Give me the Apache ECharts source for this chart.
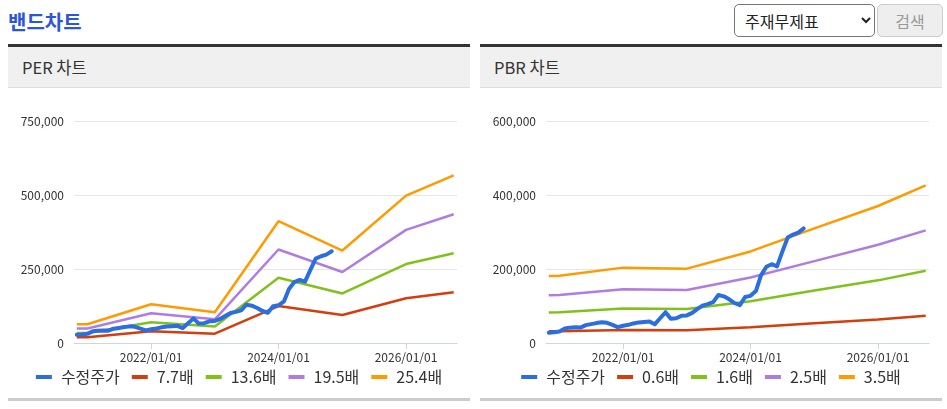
<!DOCTYPE html>
<html>
<head>
<meta charset="utf-8">
<script src="https://cdn.jsdelivr.net/npm/echarts@6/dist/echarts.min.js"></script>
<style>
  html, body { margin: 0; padding: 0; background: #fff; }
  body { width: 947px; height: 409px; position: relative; overflow: hidden;
         font-family: "Noto Sans CJK KR", "Noto Sans", sans-serif; }
  .title { position: absolute; left: 8px; top: 7px; font-size: 20px; font-weight: bold; color: #2d55d8; }
  .finder { position: absolute; left: 734px; top: 4px; }
  .finder select { position: absolute; left: 0; top: 0; width: 141px; height: 33px; font-size: 16px;
                   font-family: "Noto Sans CJK KR", sans-serif; border: 1px solid #767676; border-radius: 5px;
                   background: #fff; color: #222; padding-left: 6px; }
  .finder button { position: absolute; left: 143px; top: 0; width: 66px; height: 33px; font-size: 16px;
                   font-family: "Noto Sans CJK KR", sans-serif; border: 1px solid #ccc; border-radius: 5px;
                   background: #eee; color: #999; }
  .panel { position: absolute; top: 44px; width: 462px; height: 358px; border-top: 3px solid #333; }
  .panel .head { height: 40px; background: #f0f0f0; border-bottom: 1px solid #ddd;
                 font-size: 16.5px; color: #333; line-height: 40px; padding-left: 14px; }
  .panel .chart-box { width: 462px; height: 310px; }
  .panel .foot { height: 3px; background: #ccc; }
</style>
</head>
<body>
<div class="title">밴드차트</div>
<div class="finder">
  <select><option>주재무제표</option></select>
  <button>검색</button>
</div>

<div class="panel" style="left:8px">
  <div class="head">PER 차트</div>
  <div class="chart-box" id="perChart"></div>
  <div class="foot"></div>
</div>
<div class="panel" style="left:480px">
  <div class="head">PBR 차트</div>
  <div class="chart-box" id="pbrChart"></div>
  <div class="foot"></div>
</div>

<script>
// 수정주가 (monthly)
const priceDates = [
  '2020-11-01', '2020-12-01', '2021-01-01', '2021-02-01', '2021-03-01', '2021-04-01', '2021-05-01',
  '2021-06-01', '2021-07-01', '2021-08-01', '2021-09-01', '2021-10-01', '2021-11-01', '2021-12-01',
  '2022-01-01', '2022-02-01', '2022-03-01', '2022-04-01', '2022-05-01', '2022-06-01', '2022-07-01',
  '2022-08-01', '2022-09-01', '2022-10-01', '2022-11-01', '2022-12-01', '2023-01-01', '2023-02-01',
  '2023-03-01', '2023-04-01', '2023-05-01', '2023-06-01', '2023-07-01', '2023-08-01', '2023-09-01',
  '2023-10-01', '2023-11-01', '2023-12-01', '2024-01-01', '2024-02-01', '2024-03-01', '2024-04-01',
  '2024-05-01', '2024-06-01', '2024-07-01', '2024-08-01', '2024-09-01', '2024-10-01', '2024-11-01'
]
const priceValues = [
  28000, 29000, 31000, 39500, 41500, 42500, 41700,
  48300, 51000, 53800, 56200, 54600, 48800, 42800,
  46700, 49100, 52900, 55700, 56800, 57900, 50500,
  66900, 83200, 65500, 66900, 73400, 74500, 81300,
  91400, 101200, 105100, 110500, 129600, 126100, 118200,
  108100, 102300, 124400, 127400, 140300, 182800, 206000,
  212900, 207100, 246200, 284900, 293100, 298500, 309700
]

// band points
const bandDates = ['2020-11-01', '2021-01-01', '2022-01-01', '2023-01-01', '2024-01-01', '2025-01-01', '2026-01-01', '2026-10-01']

const perNames = ['7.7배', '13.6배', '19.5배', '25.4배']
const per77 = [19300, 19300, 39700, 31600, 124700, 94700, 150900, 171700]
const per136 = [34000, 34000, 70000, 55800, 220300, 167300, 266600, 303300]
const per195 = [48800, 48800, 100400, 80000, 315900, 239900, 382200, 434900]
const per254 = [63500, 63500, 130800, 104100, 411500, 312400, 497800, 566400]

const pbrNames = ['0.6배', '1.6배', '2.5배', '3.5배']
const pbr06 = [31500, 31700, 35000, 34500, 42400, 53100, 63500, 73500]
const pbr16 = [82700, 83200, 93100, 91800, 113100, 141600, 169300, 195000]
const pbr25 = [129300, 130000, 145500, 143500, 176800, 221300, 265500, 304500]
const pbr35 = [181000, 182000, 203700, 200900, 247500, 309800, 370300, 426000]

const xTicks = ['2022-01-01', '2024-01-01', '2026-01-01']

const bandColors = ['#d43d0c', '#80c11c', '#b07ce0', '#ff9a00']
const priceColor = '#2a6ee0'

const ts = (d) => +new Date(d + 'T00:00:00')
const toPairs = (dates, values) => dates.map((d, i) => [ts(d), values[i]])
const pad2 = (n) => (n < 10 ? '0' + n : '' + n)

const buildOption = (bandNames, bands, yMax, yStep) => ({
    animation: false,
    textStyle: { fontFamily: '"Noto Sans CJK KR", "Noto Sans", sans-serif' },
    legend: {
        top: 276,
        left: 'center',
        icon: 'rect',
        itemWidth: 16,
        itemHeight: 4,
        itemGap: 12,
        textStyle: { color: '#333', fontSize: 16, padding: [0, 0, 0, 4] },
        data: ['수정주가'].concat(bandNames)
    },
    grid: { left: 66, right: 13, top: 33, bottom: 55 },
    xAxis: {
        type: 'value',
        min: ts('2020-10-16'),
        max: ts('2026-10-20'),
        axisLine: { lineStyle: { color: '#ccd6eb', width: 1 } },
        axisTick: {
            show: true,
            length: 6,
            lineStyle: { color: '#ccd6eb' },
            customValues: xTicks.map(ts)
        },
        axisLabel: {
            color: '#333',
            fontSize: 12,
            margin: 8,
            customValues: xTicks.map(ts),
            formatter: (v) => {
                const d = new Date(v)
                return d.getFullYear() + '/' + pad2(d.getMonth() + 1) + '/' + pad2(d.getDate())
            }
        },
        splitLine: { show: false }
    },
    yAxis: {
        type: 'value',
        min: 0,
        max: yMax,
        interval: yStep,
        axisLine: { show: false },
        axisTick: { show: false },
        axisLabel: {
            color: '#333',
            fontSize: 12,
            margin: 10,
            formatter: (v) => v.toLocaleString('en-US')
        },
        splitLine: { lineStyle: { color: '#e6e6e6', width: 1 } }
    },
    series: [
        {
            name: '수정주가',
            type: 'line',
            data: toPairs(priceDates, priceValues),
            showSymbol: false,
            z: 5,
            itemStyle: { color: priceColor },
            lineStyle: { color: priceColor, width: 4, cap: 'round', join: 'round' }
        }
    ].concat(bands.map((vals, i) => ({
        name: bandNames[i],
        type: 'line',
        data: toPairs(bandDates, vals),
        showSymbol: false,
        z: 2,
        itemStyle: { color: bandColors[i] },
        lineStyle: { color: bandColors[i], width: 2.5 }
    })))
})

const perChart = echarts.init(document.getElementById('perChart'))
perChart.setOption(buildOption(perNames, [per77, per136, per195, per254], 750000, 250000))

const pbrChart = echarts.init(document.getElementById('pbrChart'))
pbrChart.setOption(buildOption(pbrNames, [pbr06, pbr16, pbr25, pbr35], 600000, 200000))
</script>
</body>
</html>
